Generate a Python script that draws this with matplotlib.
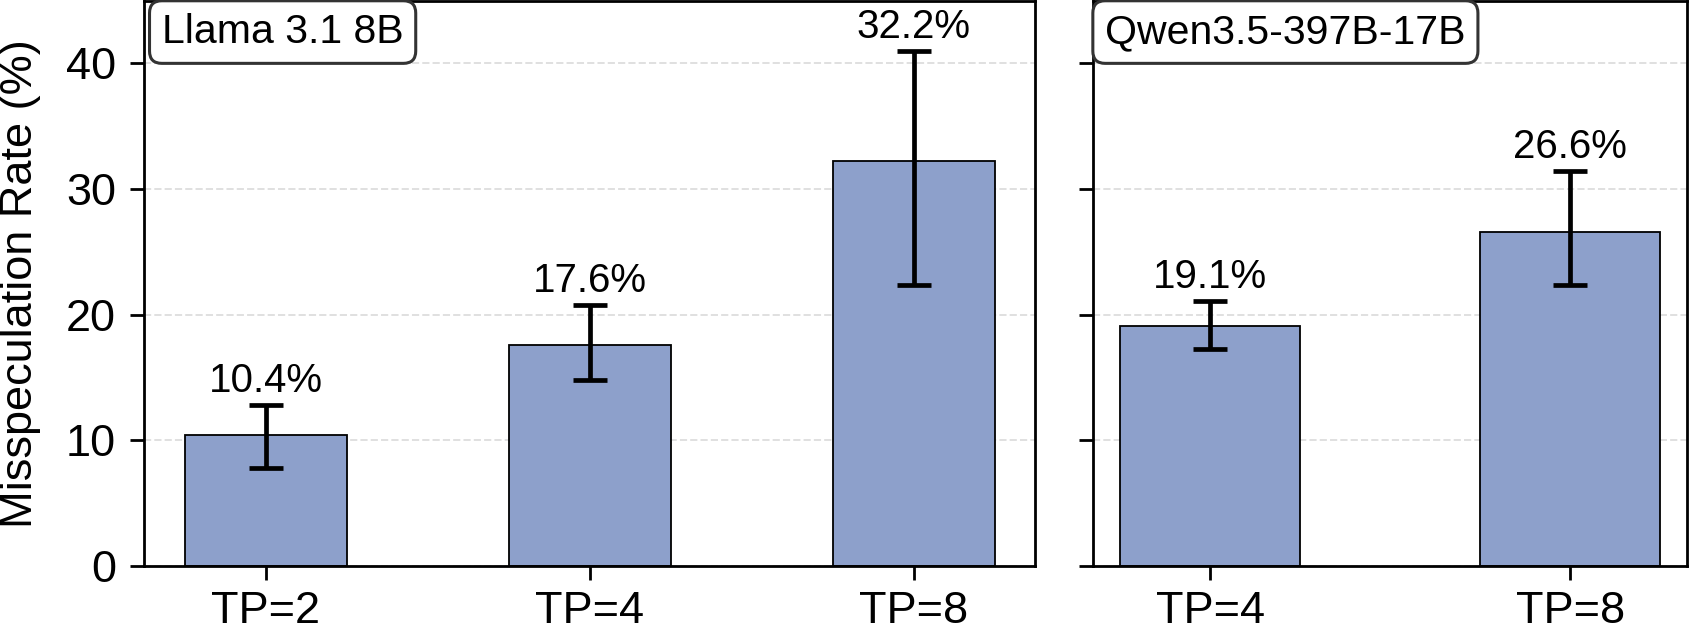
import numpy as np
import matplotlib
matplotlib.use("Agg")
import matplotlib.pyplot as plt

plt.rcParams['font.family'] = ['Liberation Sans', 'DejaVu Sans']

# data
llama_labels = ["TP=2", "TP=4", "TP=8"]
llama_rate = [10.4, 17.6, 32.2]
llama_lo = [7.8, 14.8, 22.4]
llama_hi = [12.8, 20.8, 41.0]

qwen_labels = ["TP=4", "TP=8"]
qwen_rate = [19.1, 26.6]
qwen_lo = [17.3, 22.4]
qwen_hi = [21.1, 31.4]

panels = [("Llama 3.1 8B", llama_labels, llama_rate, llama_lo, llama_hi),
          ("Qwen3.5-397B-17B", qwen_labels, qwen_rate, qwen_lo, qwen_hi)]

fig, axes = plt.subplots(1, 2, figsize=(16.9, 6.3), dpi=100, sharey=True,
                         gridspec_kw={'width_ratios': [3, 2]})
fig.subplots_adjust(left=0.0852, right=0.9985, top=0.999, bottom=0.1016, wspace=0.078)

for ax, (name, labels, rate, lo, hi) in zip(axes, panels):
    x = np.arange(len(labels))
    rate = np.array(rate)
    yerr = [rate - np.array(lo), np.array(hi) - rate]
    ax.bar(x, rate, width=0.5, color='#8da0cb', edgecolor='black', linewidth=1.3, zorder=2)
    ax.errorbar(x, rate, yerr=yerr, fmt='none', ecolor='black', elinewidth=3.4,
                capsize=12, capthick=3.4, zorder=3)
    for xi, r, h in zip(x, rate, hi):
        ax.text(xi, h + 0.4, f"{r:.1f}%", ha='center', va='bottom', fontsize=29)
    ax.set_xticks(x)
    ax.set_xticklabels(labels)
    ax.set_ylim(0, 45)
    ax.set_yticks([0, 10, 20, 30, 40])
    ax.yaxis.grid(True, linestyle='--', color='#e0e0e0', linewidth=1.4, zorder=0)
    ax.set_axisbelow(True)
    ax.tick_params(labelsize=32.5, length=10, width=2, pad=10)
    ax.tick_params(axis='x', pad=8)
    for s in ax.spines.values():
        s.set_linewidth(2)
    ax.text(0.02, 0.978, name, transform=ax.transAxes, ha='left', va='top', fontsize=29.5,
            bbox=dict(boxstyle='round,pad=0.3', facecolor='white', edgecolor='#333333', linewidth=2.2),
            zorder=5)

axes[0].set_ylabel("Misspeculation Rate (%)", fontsize=32.5, labelpad=18)

fig.savefig("out.png", dpi=100)
